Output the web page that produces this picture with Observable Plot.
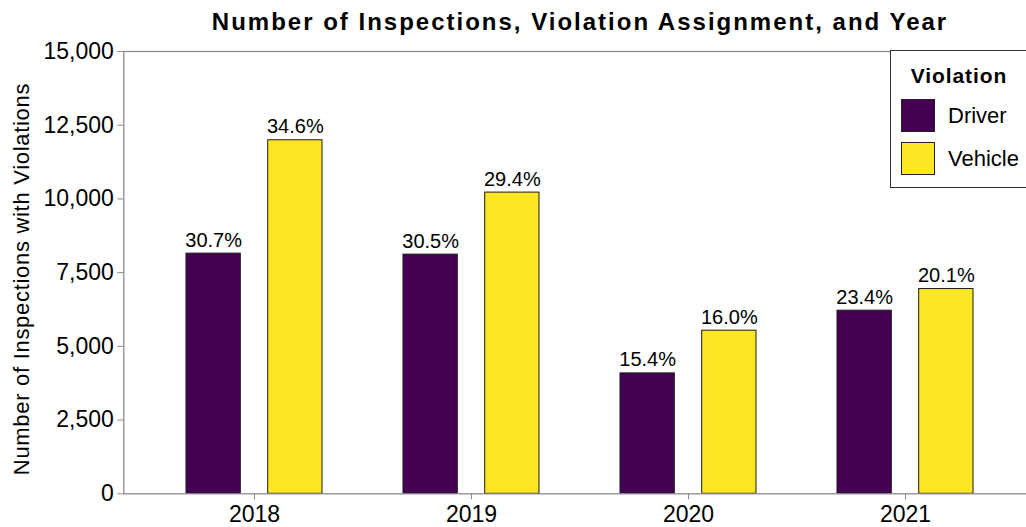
<!DOCTYPE html>
<html><head><meta charset="utf-8">
<script src="https://cdn.jsdelivr.net/npm/d3@7"></script>
<script src="https://cdn.jsdelivr.net/npm/@observablehq/plot@0.6"></script>
<style>
body{margin:0;background:#fff;font-family:"Liberation Sans",Arial,sans-serif;}
#wrap{position:relative;width:1026px;height:527px;overflow:hidden;background:#fff;}
#title{height:30px;overflow:visible;box-sizing:border-box;padding-left:134px;text-align:center;font-weight:bold;font-size:24px;letter-spacing:2px;line-height:44px;color:#000;white-space:nowrap;position:relative;z-index:2;}
#ylab{position:absolute;left:22px;top:279px;transform:translate(-50%,-50%) rotate(-90deg);font-size:22px;letter-spacing:0.7px;white-space:nowrap;color:#000;}
#legend{position:absolute;left:890px;top:50px;width:160px;height:138px;box-sizing:border-box;border:1px solid #333;background:#fff;}
#legend .lt{position:absolute;left:0;width:136px;top:13px;text-align:center;font-weight:bold;font-size:21px;letter-spacing:0.9px;}
#legend .sw{position:absolute;left:10px;width:34px;height:33px;box-sizing:border-box;border:1px solid #222;}
#legend .lab{position:absolute;left:57px;font-size:22px;line-height:33px;}
</style></head><body>
<div id="wrap">
<div id="title">Number of Inspections, Violation Assignment, and Year</div>
<div id="chart"></div>
<div id="ylab">Number of Inspections with Violations</div>
<div id="legend"></div>
</div>
<script>
const years = ["2018", "2019", "2020", "2021"];
const violations = ["Driver", "Vehicle"];
const driverCounts = [8145, 8111, 4083, 6210];
const vehicleCounts = [11990, 10215, 5532, 6944];
const driverPct = [30.7, 30.5, 15.4, 23.4];
const vehiclePct = [34.6, 29.4, 16.0, 20.1];
const colors = ["#440154", "#FDE725"];
const yTicks = [0, 2500, 5000, 7500, 10000, 12500, 15000];

const driverRows = years.map((y, i) => ({year: y, violation: "Driver", count: driverCounts[i], pct: driverPct[i]}));
const vehicleRows = years.map((y, i) => ({year: y, violation: "Vehicle", count: vehicleCounts[i], pct: vehiclePct[i]}));

const groupW = 136.7, barW = 55, off = (groupW - barW) / 2;
const font = '"Liberation Sans", Arial, sans-serif';
const pctText = d => d.pct.toFixed(1) + "%";

const plot = Plot.plot({
  width: 1026, height: 497,
  marginTop: 21, marginLeft: 123.3, marginRight: -10, marginBottom: 33.7,
  style: {fontFamily: font, fontSize: "22px", color: "#000", background: "#fff"},
  x: {domain: years, paddingInner: 0.371, paddingOuter: 0.285},
  y: {domain: [0, 15000]},
  color: {domain: violations, range: colors},
  marks: [
    Plot.barY(driverRows, {x: "year", y: "count", fill: "violation", stroke: "#1a1a1a", strokeWidth: 1, insetRight: groupW - barW}),
    Plot.barY(vehicleRows, {x: "year", y: "count", fill: "violation", stroke: "#1a1a1a", strokeWidth: 1, insetLeft: groupW - barW}),
    Plot.text(driverRows, {x: "year", y: "count", text: pctText, dx: -off, dy: -7, lineAnchor: "bottom", fontSize: 20, fill: "#000"}),
    Plot.text(vehicleRows, {x: "year", y: "count", text: pctText, dx: off, dy: -7, lineAnchor: "bottom", fontSize: 20, fill: "#000"}),
    Plot.frame({stroke: "#8c8c8c", strokeWidth: 1.3}),
    Plot.axisY({ticks: yTicks, tickFormat: d3.format(","), label: null, tickSize: 6, tickPadding: 4, stroke: "#8c8c8c", fill: "#000", fontSize: 23}),
    Plot.axisX({label: null, tickSize: 6, tickPadding: 6, stroke: "#8c8c8c", fill: "#000", fontSize: 23})
  ]
});
document.getElementById("chart").appendChild(plot);

const color = plot.scale("color");
const leg = document.getElementById("legend");
leg.innerHTML = '<div class="lt">Violation</div>' + violations.map((v, i) =>
  `<div class="sw" style="top:${48 + i * 43}px;background:${color.range[i]}"></div><div class="lab" style="top:${48 + i * 43}px">${v}</div>`
).join("");
</script>
</body></html>
